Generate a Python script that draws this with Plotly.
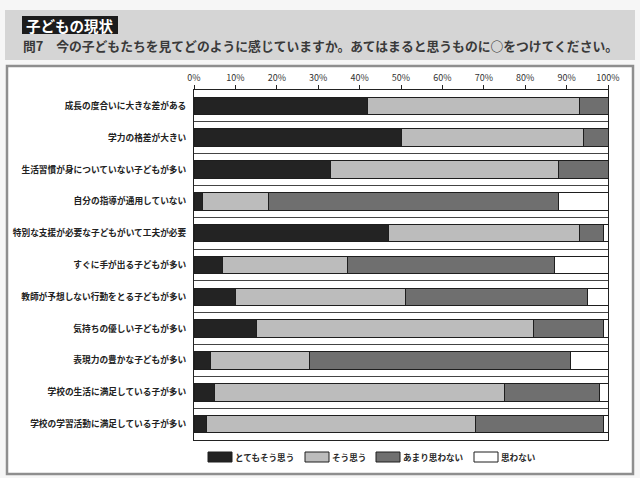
import plotly.graph_objects as go

categories = [
    "成長の度合いに大きな差がある",
    "学力の格差が大きい",
    "生活習慣が身についていない子どもが多い",
    "自分の指導が通用していない",
    "特別な支援が必要な子どもがいて工夫が必要",
    "すぐに手が出る子どもが多い",
    "教師が予想しない行動をとる子どもが多い",
    "気持ちの優しい子どもが多い",
    "表現力の豊かな子どもが多い",
    "学校の生活に満足している子が多い",
    "学校の学習活動に満足している子が多い",
]
series_names = ["とてもそう思う", "そう思う", "あまり思わない", "思わない"]
very_much = [42, 50, 33, 2, 47, 7, 10, 15, 4, 5, 3]
agree = [51, 44, 55, 16, 46, 30, 41, 67, 24, 70, 65]
not_really = [7, 6, 12, 70, 6, 50, 44, 17, 63, 23, 31]
not_at_all = [0, 0, 0, 12, 1, 13, 5, 1, 9, 2, 1]
x_ticks = [0, 10, 20, 30, 40, 50, 60, 70, 80, 90, 100]
x_tick_labels = [f"{v}%" for v in x_ticks]

colors = ["#232323", "#bcbcbc", "#6f6f6f", "#ffffff"]
values = [very_much, agree, not_really, not_at_all]

W, H = 640, 478
def px(x):
    return x / W
def py(y):
    return (H - y) / H

JP = "Noto Sans CJK JP"

fig = go.Figure()
for name, vals, col in zip(series_names, values, colors):
    fig.add_trace(go.Bar(
        y=categories, x=vals, name=name, orientation="h",
        marker=dict(color=col, line=dict(color="#1e1e1e", width=1)),
        showlegend=False,
    ))

shapes = []
annotations = []
# header band
shapes.append(dict(type="rect", xref="paper", yref="paper", x0=px(5), x1=px(635),
                   y0=py(60), y1=py(10), fillcolor="#d5d5d5", line=dict(width=0), layer="below"))
# chart panel
shapes.append(dict(type="rect", xref="paper", yref="paper", x0=px(7), x1=px(633),
                   y0=py(474), y1=py(66), fillcolor="#ffffff",
                   line=dict(color="#8e8e8e", width=2.5), layer="below"))
# black title tag
shapes.append(dict(type="rect", xref="paper", yref="paper", x0=px(22), x1=px(118),
                   y0=py(34), y1=py(16), fillcolor="#1c1c1c", line=dict(width=0)))
annotations.append(dict(text="<b>子どもの現状</b>", xref="paper", yref="paper",
                        x=px(70), y=py(25), xanchor="center", yanchor="middle",
                        showarrow=False, font=dict(family=JP, size=14.5, color="#ffffff")))
annotations.append(dict(text="<b>問7　今の子どもたちを見てどのように感じていますか。あてはまると思うものに○をつけてください。</b>",
                        xref="paper", yref="paper", x=px(21), y=py(46),
                        xanchor="left", yanchor="middle", showarrow=False,
                        font=dict(family=JP, size=12.8, color="#3a3a3a")))

# manual legend
legend_x = [208, 305, 376, 474]
for name, col, lx in zip(series_names, colors, legend_x):
    shapes.append(dict(type="rect", xref="paper", yref="paper", x0=px(lx), x1=px(lx + 24),
                       y0=py(462), y1=py(452), fillcolor=col,
                       line=dict(color="#1e1e1e", width=1)))
    annotations.append(dict(text=f"<b>{name}</b>", xref="paper", yref="paper",
                            x=px(lx + 25), y=py(457), xanchor="left", yanchor="middle",
                            showarrow=False, font=dict(family=JP, size=8.6, color="#2a2a2a")))

fig.update_layout(
    width=W, height=H,
    margin=dict(l=0, r=0, t=0, b=0),
    paper_bgcolor="#f6f6f6",
    plot_bgcolor="#ffffff",
    barmode="stack",
    bargap=0.45,
    shapes=shapes,
    annotations=annotations,
    xaxis=dict(
        domain=[px(194), px(608)], range=[0, 100], side="top",
        tickvals=x_ticks, ticktext=x_tick_labels, automargin=False,
        ticks="outside", ticklen=4, tickcolor="#222", tickwidth=1,
        showgrid=False, zeroline=False,
        showline=True, linecolor="#222", linewidth=1, mirror=True,
        tickfont=dict(family=JP, size=9, color="#333"),
    ),
    yaxis=dict(
        domain=[py(440), py(90)], autorange="reversed", automargin=False,
        tickson="boundaries", showgrid=True, gridcolor="#444", gridwidth=1.2,
        ticks="", showline=True, linecolor="#222", linewidth=1, mirror=True,
        ticklabelstandoff=5,
        tickfont=dict(family=JP, size=8.7, color="#222", weight="bold"),
    ),
)

fig.write_html("out.html", config={"displayModeBar": False},
               post_script="document.body.style.margin='0px';document.body.style.overflow='hidden';")
